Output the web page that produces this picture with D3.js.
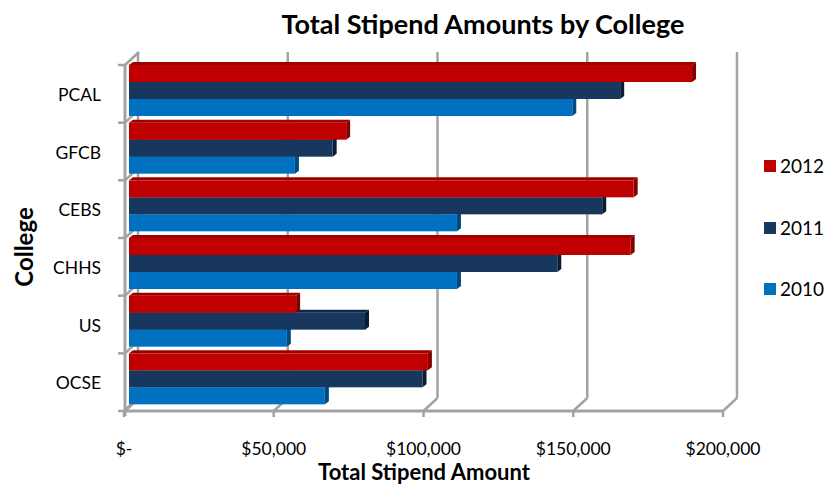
<!DOCTYPE html>
<html><head><meta charset="utf-8">
<script src="https://cdn.jsdelivr.net/npm/d3@7"></script>
<style>body{margin:0;background:#fff}svg{display:block;font-family:Lato,"Open Sans",sans-serif}</style>
</head><body>
<svg id="c" width="834" height="486"></svg>
<script>
const categories = ["PCAL","GFCB","CEBS","CHHS","US","OCSE"];
const series = ["2012","2011","2010"];
const values2012 = [188000, 72500, 168500, 167500, 55800, 99800];
const values2011 = [164000, 68000, 158000, 143000, 78800, 98000];
const values2010 = [148000, 55400, 109500, 109500, 52700, 65400];
const xTicks = [0, 50000, 100000, 150000, 200000];
const xTickLabels = ["$-", "$50,000", "$100,000", "$150,000", "$200,000"];
const colors = {"2012":"#C00000","2011":"#17375E","2010":"#0070C0"};
const topColors = {"2012":"#9E0000","2011":"#0F2846","2010":"#005C9E"};
const sideColors = {"2012":"#820000","2011":"#0A1D33","2010":"#004A80"};
const seriesValues = {"2012":values2012,"2011":values2011,"2010":values2010};

const svg = d3.select("#c");
const x = d3.scaleLinear().domain([0,200000]).range([124,723]);
const y = d3.scaleBand().domain(categories).range([65,411]);
const DX = 14, DY = -13; // depth offset of back wall
const floorY = 411;
const grid = "#A3A3A3";

const g = svg.append("g");
xTicks.forEach(t => {
  const fx = x(t);
  g.append("line").attr("x1",fx+DX).attr("y1",floorY+DY).attr("x2",fx+DX).attr("y2",52)
    .attr("stroke",grid).attr("stroke-width",2.5);
  g.append("line").attr("x1",fx).attr("y1",floorY).attr("x2",fx+DX).attr("y2",floorY+DY)
    .attr("stroke",grid).attr("stroke-width",2.5);
  g.append("line").attr("x1",fx).attr("y1",floorY).attr("x2",fx).attr("y2",floorY+6)
    .attr("stroke",grid).attr("stroke-width",2.5);
});
const bounds = categories.map(c => y(c)).concat([y.range()[1]]);
bounds.forEach(b => {
  g.append("line").attr("x1",125).attr("y1",b).attr("x2",125+DX).attr("y2",b+DY)
    .attr("stroke",grid).attr("stroke-width",2.5);
  g.append("line").attr("x1",118).attr("y1",b).attr("x2",125).attr("y2",b)
    .attr("stroke",grid).attr("stroke-width",2.5);
});
g.append("line").attr("x1",124).attr("y1",floorY).attr("x2",x(200000)).attr("y2",floorY)
  .attr("stroke",grid).attr("stroke-width",3);
g.append("line").attr("x1",125).attr("y1",y.range()[0]).attr("x2",125).attr("y2",floorY+5)
  .attr("stroke",grid).attr("stroke-width",3);

// bars
const barH = 17, bx = 4, by = -3, off = 5;
const order = ["2010","2011","2012"];
const bars = svg.append("g");
categories.forEach((cat, ci) => {
  order.forEach(s => {
    const i = series.indexOf(s);
    const v = seriesValues[s][ci];
    const x0 = x(0) + off, xe = x(v) + off;
    const yt = y(cat) + i*barH;
    bars.append("path").attr("fill", topColors[s])
      .attr("d", `M${x0},${yt} L${x0+bx},${yt+by} L${xe+bx},${yt+by} L${xe},${yt} Z`);
    bars.append("path").attr("fill", sideColors[s])
      .attr("d", `M${xe},${yt} L${xe+bx},${yt+by} L${xe+bx},${yt+by+barH} L${xe},${yt+barH} Z`);
    bars.append("rect").attr("x", x0).attr("y", yt).attr("width", xe-x0).attr("height", barH)
      .attr("fill", colors[s]);
  });
});

svg.append("g").selectAll("text").data(categories).join("text")
  .attr("x",101).attr("y",d => y(d)+y.bandwidth()/2+7)
  .attr("text-anchor","end").attr("font-size",17.5).attr("fill","#000").text(d=>d);

svg.append("g").selectAll("text").data(xTicks).join("text")
  .attr("x",d=>x(d)).attr("y",455).attr("text-anchor","middle")
  .attr("font-size",17.5).attr("fill","#000").text((d,i)=>xTickLabels[i]);

svg.append("text").attr("x",483).attr("y",34).attr("text-anchor","middle")
  .attr("font-size",27).attr("font-weight","bold").text("Total Stipend Amounts by College");
svg.append("text").attr("x",424).attr("y",480).attr("text-anchor","middle")
  .attr("font-size",22).attr("font-weight","bold").text("Total Stipend Amount");
svg.append("text").attr("transform","translate(33,247) rotate(-90)").attr("text-anchor","middle")
  .attr("font-size",24).attr("font-weight","bold").text("College");

const legY = {"2012":166,"2011":228,"2010":289};
const leg = svg.append("g");
series.forEach(s => {
  leg.append("rect").attr("x",764).attr("y",legY[s]-6).attr("width",12).attr("height",12).attr("fill",colors[s]);
  leg.append("text").attr("x",780).attr("y",legY[s]+7).attr("font-size",19).text(s);
});
</script>
</body></html>
